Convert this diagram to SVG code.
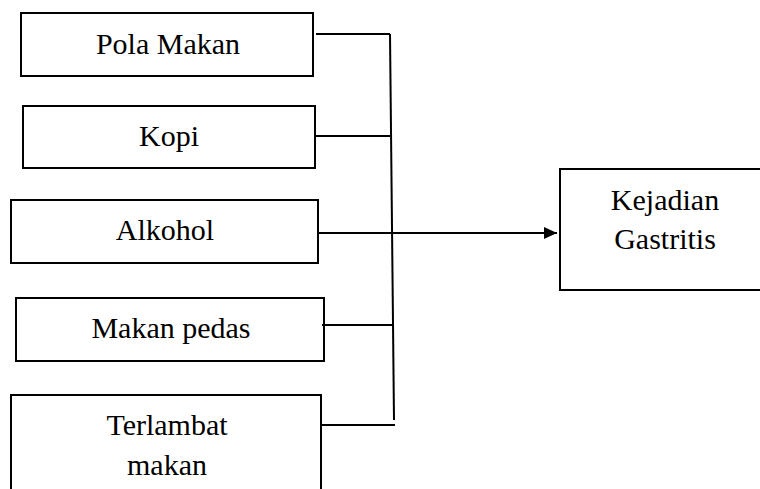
<svg xmlns="http://www.w3.org/2000/svg" width="760" height="489" viewBox="0 0 760 489">
<style>
.box{fill:#fff;stroke:#000;stroke-width:2}
.t{font-size:30px;fill:#000;text-anchor:middle}
.c{stroke:#000;stroke-width:2;fill:none}
</style>
<defs>
<marker id="arr" markerWidth="14" markerHeight="12" refX="13" refY="6" orient="auto" markerUnits="userSpaceOnUse">
<path d="M0,0 L13,6 L0,12 Z" fill="#000"/>
</marker>
</defs>
<rect width="760" height="489" fill="#fff"/>
<g id="n1"><rect class="box" x="21" y="13" width="292" height="63"/><text class="t" x="168" y="54" font-family="'Liberation Serif', serif">Pola Makan</text></g>
<g id="n2"><rect class="box" x="23" y="106" width="292" height="62"/><text class="t" x="169" y="146" font-family="'Liberation Serif', serif">Kopi</text></g>
<g id="n3"><rect class="box" x="11" y="200" width="307" height="63"/><text class="t" x="165" y="240" font-family="'Liberation Serif', serif">Alkohol</text></g>
<g id="n4"><rect class="box" x="16" y="298" width="308" height="63"/><text class="t" x="171" y="338" font-family="'Liberation Serif', serif">Makan pedas</text></g>
<g id="n5"><rect class="box" x="11" y="395" width="310" height="110"/><text class="t" x="167" y="435" font-family="'Liberation Serif', serif">Terlambat</text><text class="t" x="167" y="475" font-family="'Liberation Serif', serif">makan</text></g>
<g id="n6"><rect class="box" x="560" y="169" width="220" height="121"/><text class="t" x="665" y="210" font-family="'Liberation Serif', serif">Kejadian</text><text class="t" x="665" y="249" font-family="'Liberation Serif', serif">Gastritis</text></g>
<g id="connectors">
<line class="c" x1="316" y1="34" x2="390" y2="34"/>
<line class="c" x1="316" y1="136" x2="390" y2="136"/>
<line class="c" x1="319" y1="233" x2="392" y2="233"/>
<line class="c" x1="322" y1="325" x2="393" y2="325"/>
<line class="c" x1="321" y1="425" x2="395" y2="425"/>
<line class="c" x1="390" y1="34" x2="394" y2="420"/>
<line class="c" x1="392" y1="233" x2="557" y2="233" stroke-width="1.5" marker-end="url(#arr)"/>
</g>
</svg>
